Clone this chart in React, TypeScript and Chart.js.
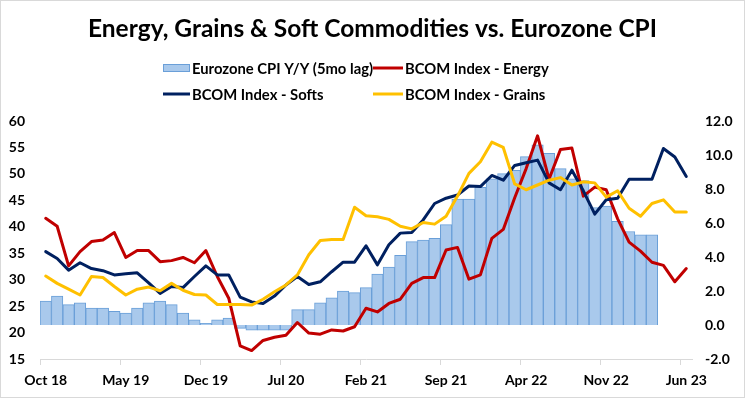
import React, { useEffect, useRef } from 'react';
import { Chart, registerables } from 'chart.js';

Chart.register(...registerables);

const TITLE = 'Energy, Grains & Soft Commodities vs. Eurozone CPI';

const months = [
  'Oct 18', 'Nov 18', 'Dec 18',
  'Jan 19', 'Feb 19', 'Mar 19', 'Apr 19', 'May 19', 'Jun 19', 'Jul 19', 'Aug 19', 'Sep 19', 'Oct 19', 'Nov 19', 'Dec 19',
  'Jan 20', 'Feb 20', 'Mar 20', 'Apr 20', 'May 20', 'Jun 20', 'Jul 20', 'Aug 20', 'Sep 20', 'Oct 20', 'Nov 20', 'Dec 20',
  'Jan 21', 'Feb 21', 'Mar 21', 'Apr 21', 'May 21', 'Jun 21', 'Jul 21', 'Aug 21', 'Sep 21', 'Oct 21', 'Nov 21', 'Dec 21',
  'Jan 22', 'Feb 22', 'Mar 22', 'Apr 22', 'May 22', 'Jun 22', 'Jul 22', 'Aug 22', 'Sep 22', 'Oct 22', 'Nov 22', 'Dec 22',
  'Jan 23', 'Feb 23', 'Mar 23', 'Apr 23', 'May 23', 'Jun 23',
];

// Eurozone CPI Y/Y (5mo lag), right axis
const cpi = [
  1.4, 1.7, 1.2, 1.3, 1.0, 1.0, 0.8, 0.7, 1.0, 1.3, 1.4, 1.2, 0.7, 0.3, 0.1, 0.3, 0.4,
  -0.2, -0.3, -0.3, -0.3, -0.3, 0.9, 0.9, 1.3, 1.6, 2.0, 1.9, 2.2, 3.0, 3.4, 4.1, 4.9,
  5.0, 5.1, 5.9, 7.4, 7.4, 8.1, 8.6, 8.9, 9.1, 9.9, 10.6, 10.1, 9.2, 8.6, 8.5, 6.9, 7.0,
  6.1, 5.5, 5.3, 5.3,
];

// BCOM Index - Energy, left axis
const energy = [
  41.6, 40.1, 32.6, 35.3, 37.2, 37.5, 38.9, 34.2, 35.5, 35.5, 33.4, 33.6, 34.2, 33.2, 35.5,
  30.6, 26.5, 17.5, 16.6, 18.5, 19.1, 19.5, 21.9, 19.9, 19.7, 20.5, 20.3, 21.1, 24.6, 23.9,
  25.5, 26.3, 29.3, 30.4, 30.4, 35.6, 36.1, 30.1, 30.9, 37.8, 39.5, 45.5, 51.0, 57.2, 49.0,
  54.6, 54.9, 45.8, 47.5, 47.0, 41.5, 37.1, 35.4, 33.3, 32.7, 29.6, 32.1,
];

// BCOM Index - Softs, left axis
const softs = [
  35.3, 34.0, 31.8, 33.2, 32.1, 31.7, 30.9, 31.1, 31.3, 29.4, 27.4, 28.7, 28.5, 30.6, 32.6,
  30.9, 30.9, 26.7, 25.8, 25.5, 26.9, 29.0, 30.6, 29.1, 29.6, 31.5, 33.3, 33.3, 36.4, 32.8,
  36.6, 38.8, 38.9, 41.3, 44.4, 45.4, 46.0, 47.7, 47.6, 49.7, 48.8, 51.6, 52.1, 52.6, 48.3,
  47.0, 50.7, 46.8, 42.4, 45.1, 45.4, 49.0, 49.0, 49.0, 54.8, 53.2, 49.5,
];

// BCOM Index - Grains, left axis
const grains = [
  30.7, 29.3, 28.2, 27.1, 30.6, 30.4, 28.7, 27.1, 28.2, 28.6, 27.9, 29.3, 28.0, 27.2, 27.1,
  25.3, 25.3, 25.3, 25.2, 26.3, 27.7, 29.0, 30.9, 34.7, 37.4, 37.6, 37.6, 43.7, 42.1, 41.9,
  41.4, 40.1, 39.6, 40.8, 40.5, 42.0, 45.8, 50.1, 52.3, 56.0, 55.0, 48.1, 47.0, 47.9, 48.8,
  49.3, 47.9, 48.5, 48.3, 45.6, 46.8, 43.5, 42.0, 44.4, 45.1, 42.8, 42.8,
];

const LABEL_EVERY = 7;

const FONT_FAMILY = 'Lato, "Open Sans", sans-serif';
const BAR_FILL = '#a9c9ec';
const BAR_BORDER = '#6a9fd8';
const RED = '#c00000';
const NAVY = '#002060';
const GOLD = '#ffc000';
const AXIS_GRAY = '#d9d9d9';

const legendItems = [
  { text: 'Eurozone CPI Y/Y (5mo lag)', kind: 'box', color: BAR_FILL, border: BAR_BORDER, col: 0, row: 0 },
  { text: 'BCOM Index - Energy', kind: 'line', color: RED, col: 1, row: 0 },
  { text: 'BCOM Index - Softs', kind: 'line', color: NAVY, col: 0, row: 1 },
  { text: 'BCOM Index - Grains', kind: 'line', color: GOLD, col: 1, row: 1 },
];

const headerPlugin = {
  id: 'header',
  afterDraw(chart: any) {
    const ctx = chart.ctx as CanvasRenderingContext2D;
    ctx.save();
    ctx.fillStyle = '#000';
    ctx.textAlign = 'center';
    ctx.textBaseline = 'middle';
    ctx.font = `bold 24.5px ${FONT_FAMILY}`;
    ctx.fillText(TITLE, chart.width / 2, 28);

    const colX = [162, 372];
    const rowY = [67, 93];
    const markW = [27, 30];
    ctx.font = `bold 14.8px ${FONT_FAMILY}`;
    ctx.textAlign = 'left';
    legendItems.forEach((it) => {
      const x = colX[it.col];
      const y = rowY[it.row];
      const w = markW[it.col];
      if (it.kind === 'box') {
        ctx.fillStyle = it.color;
        ctx.fillRect(x, y - 4, w, 8);
        ctx.strokeStyle = it.border as string;
        ctx.lineWidth = 1;
        ctx.strokeRect(x + 0.5, y - 3.5, w - 1, 7);
      } else {
        ctx.strokeStyle = it.color;
        ctx.lineWidth = 3;
        ctx.beginPath();
        ctx.moveTo(x, y);
        ctx.lineTo(x + w, y);
        ctx.stroke();
      }
      ctx.fillStyle = '#000';
      ctx.fillText(it.text, x + w + 2, y + 1);
    });
    ctx.restore();
  },
};

export default function App() {
  const ref = useRef<HTMLCanvasElement | null>(null);

  useEffect(() => {
    if (!ref.current) return;
    const tickFont = { family: FONT_FAMILY, weight: 'bold' as const, size: 14 };
    const lineDs = (label: string, data: number[], color: string, order: number) => ({
      type: 'line' as const,
      label,
      data,
      yAxisID: 'y',
      borderColor: color,
      backgroundColor: color,
      borderWidth: 3,
      pointRadius: 0,
      pointHoverRadius: 0,
      tension: 0,
      borderJoinStyle: 'round' as const,
      borderCapStyle: 'round' as const,
      fill: false,
      order,
    });
    const chart = new Chart(ref.current, {
      type: 'bar',
      data: {
        labels: months,
        datasets: [
          {
            type: 'bar' as const,
            label: 'Eurozone CPI Y/Y (5mo lag)',
            data: cpi,
            yAxisID: 'y1',
            backgroundColor: BAR_FILL,
            borderColor: BAR_BORDER,
            borderWidth: 1,
            barPercentage: 1,
            categoryPercentage: 1,
            order: 4,
          } as any,
          lineDs('BCOM Index - Energy', energy, RED, 3),
          lineDs('BCOM Index - Softs', softs, NAVY, 2),
          lineDs('BCOM Index - Grains', grains, GOLD, 1),
        ],
      },
      options: {
        responsive: false,
        animation: false,
        events: [],
        layout: { padding: { top: 120, left: 0, right: 0, bottom: 0 } },
        plugins: {
          legend: { display: false },
          title: { display: false },
          tooltip: { enabled: false },
        },
        scales: {
          x: {
            offset: true,
            grid: {
              offset: true,
              display: true,
              drawOnChartArea: false,
              drawTicks: true,
              tickLength: 6,
              color: (c: any) => (c.index % LABEL_EVERY === 0 ? AXIS_GRAY : 'rgba(0,0,0,0)'),
              lineWidth: 1,
            },
            border: { display: true, color: AXIS_GRAY, width: 1 },
            ticks: {
              autoSkip: false,
              maxRotation: 0,
              minRotation: 0,
              padding: 7,
              color: '#000',
              font: tickFont,
              callback: (_v: any, i: number) => (i % LABEL_EVERY === 0 ? months[i] : ''),
            },
            afterFit: (s: any) => {
              s.height = 38;
            },
          },
          y: {
            position: 'left',
            min: 15,
            max: 60,
            grid: { display: false, drawTicks: false },
            border: { display: false },
            ticks: { stepSize: 5, padding: 15, color: '#000', font: tickFont },
            afterFit: (s: any) => {
              s.width = 39;
            },
          },
          y1: {
            position: 'right',
            min: -2,
            max: 12,
            grid: { display: false, drawTicks: false },
            border: { display: false },
            ticks: {
              stepSize: 2,
              padding: 13,
              color: '#000',
              font: tickFont,
              callback: (v: any) => Number(v).toFixed(1),
            },
            afterFit: (s: any) => {
              s.width = 52;
            },
          },
        },
      },
      plugins: [headerPlugin],
    });
    return () => chart.destroy();
  }, []);

  return (
    <div
      style={{
        position: 'fixed',
        left: 0,
        top: 0,
        width: 745,
        height: 398,
        boxSizing: 'border-box',
        border: `1px solid ${AXIS_GRAY}`,
        background: '#fff',
      }}
    >
      <canvas ref={ref} width={743} height={396} style={{ display: 'block', width: 743, height: 396 }} />
    </div>
  );
}
